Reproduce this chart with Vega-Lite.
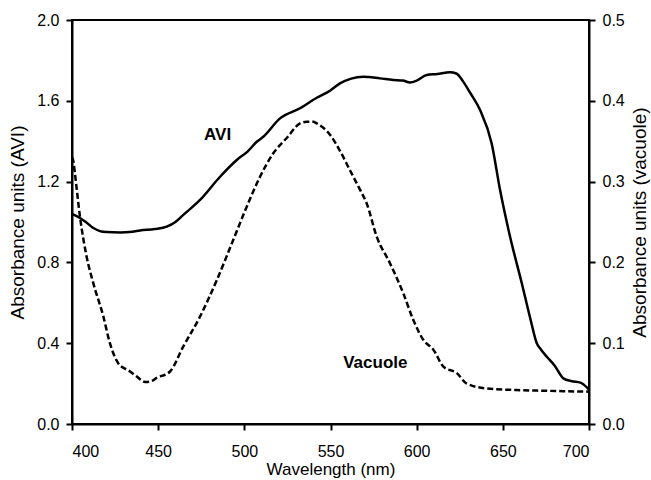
{
  "$schema": "https://vega.github.io/schema/vega-lite/v6.json",
  "width": 517,
  "height": 404,
  "autosize": "none",
  "padding": {"left": 72, "top": 20, "right": 62, "bottom": 56},
  "background": "white",
  "config": {
    "font": "Liberation Sans",
    "view": {"stroke": "black", "strokeWidth": 2},
    "axis": {
      "grid": false,
      "domainColor": "black",
      "domainWidth": 2,
      "tickColor": "black",
      "tickWidth": 2,
      "tickSize": 6,
      "labelColor": "black",
      "labelFontSize": 16,
      "labelFont": "Liberation Sans",
      "labelPadding": 7,
      "titleColor": "black",
      "titleFont": "Liberation Sans",
      "titleFontSize": 19,
      "titleFontWeight": "normal"
    }
  },
  "datasets": {
    "avi": [
      {"wavelength": 400, "absorbance": 1.04},
      {"wavelength": 404.6, "absorbance": 1.02},
      {"wavelength": 408, "absorbance": 1.0},
      {"wavelength": 412.4, "absorbance": 0.97},
      {"wavelength": 416.2, "absorbance": 0.955},
      {"wavelength": 420, "absorbance": 0.95},
      {"wavelength": 427.9, "absorbance": 0.948},
      {"wavelength": 435, "absorbance": 0.952},
      {"wavelength": 439.5, "absorbance": 0.958},
      {"wavelength": 448, "absorbance": 0.965},
      {"wavelength": 455, "absorbance": 0.977},
      {"wavelength": 460, "absorbance": 1.0},
      {"wavelength": 464.6, "absorbance": 1.035},
      {"wavelength": 474.3, "absorbance": 1.109},
      {"wavelength": 485.9, "absorbance": 1.224},
      {"wavelength": 495.6, "absorbance": 1.307},
      {"wavelength": 502, "absorbance": 1.35},
      {"wavelength": 507.2, "absorbance": 1.397},
      {"wavelength": 511, "absorbance": 1.422},
      {"wavelength": 520.7, "absorbance": 1.513},
      {"wavelength": 532.3, "absorbance": 1.563},
      {"wavelength": 542, "absorbance": 1.615},
      {"wavelength": 549.7, "absorbance": 1.65},
      {"wavelength": 555.5, "absorbance": 1.686},
      {"wavelength": 562, "absorbance": 1.71},
      {"wavelength": 569, "absorbance": 1.719},
      {"wavelength": 578.7, "absorbance": 1.711},
      {"wavelength": 586.4, "absorbance": 1.703},
      {"wavelength": 592, "absorbance": 1.7},
      {"wavelength": 596.1, "absorbance": 1.691},
      {"wavelength": 600, "absorbance": 1.7},
      {"wavelength": 605.8, "absorbance": 1.728},
      {"wavelength": 612, "absorbance": 1.733},
      {"wavelength": 619.3, "absorbance": 1.741},
      {"wavelength": 623, "absorbance": 1.735},
      {"wavelength": 627, "absorbance": 1.695},
      {"wavelength": 631, "absorbance": 1.64},
      {"wavelength": 636.8, "absorbance": 1.554},
      {"wavelength": 643.5, "absorbance": 1.39},
      {"wavelength": 648.4, "absorbance": 1.158},
      {"wavelength": 654.2, "absorbance": 0.927},
      {"wavelength": 661, "absorbance": 0.697},
      {"wavelength": 666, "absorbance": 0.52},
      {"wavelength": 669.7, "absorbance": 0.4},
      {"wavelength": 672, "absorbance": 0.37},
      {"wavelength": 675.5, "absorbance": 0.333},
      {"wavelength": 680, "absorbance": 0.29},
      {"wavelength": 685.1, "absorbance": 0.226},
      {"wavelength": 690, "absorbance": 0.212},
      {"wavelength": 695, "absorbance": 0.205},
      {"wavelength": 700, "absorbance": 0.17}
    ],
    "vacuole": [
      {"wavelength": 400, "absorbance": 0.33},
      {"wavelength": 400.8, "absorbance": 0.325},
      {"wavelength": 401.7, "absorbance": 0.31},
      {"wavelength": 404.6, "absorbance": 0.257},
      {"wavelength": 408.5, "absorbance": 0.207},
      {"wavelength": 412.4, "absorbance": 0.174},
      {"wavelength": 418.2, "absorbance": 0.133},
      {"wavelength": 422, "absorbance": 0.1},
      {"wavelength": 426.9, "absorbance": 0.075},
      {"wavelength": 433.7, "absorbance": 0.065},
      {"wavelength": 438, "absorbance": 0.058},
      {"wavelength": 442.4, "absorbance": 0.052},
      {"wavelength": 446, "absorbance": 0.053},
      {"wavelength": 449.1, "absorbance": 0.057},
      {"wavelength": 456.9, "absorbance": 0.065},
      {"wavelength": 464.6, "absorbance": 0.096},
      {"wavelength": 474.3, "absorbance": 0.133},
      {"wavelength": 484, "absorbance": 0.178},
      {"wavelength": 493.6, "absorbance": 0.228},
      {"wavelength": 501.4, "absorbance": 0.269},
      {"wavelength": 509.1, "absorbance": 0.306},
      {"wavelength": 516.8, "absorbance": 0.335},
      {"wavelength": 524.6, "absorbance": 0.354},
      {"wavelength": 532.3, "absorbance": 0.372},
      {"wavelength": 536.2, "absorbance": 0.374},
      {"wavelength": 540, "absorbance": 0.374},
      {"wavelength": 542, "absorbance": 0.372},
      {"wavelength": 549.7, "absorbance": 0.358},
      {"wavelength": 555, "absorbance": 0.34},
      {"wavelength": 561.3, "absorbance": 0.314},
      {"wavelength": 567.1, "absorbance": 0.29},
      {"wavelength": 571, "absorbance": 0.273},
      {"wavelength": 576.8, "absorbance": 0.232},
      {"wavelength": 584.5, "absorbance": 0.199},
      {"wavelength": 592.2, "absorbance": 0.162},
      {"wavelength": 598, "absorbance": 0.129},
      {"wavelength": 603.9, "absorbance": 0.104},
      {"wavelength": 609.7, "absorbance": 0.092},
      {"wavelength": 615.5, "absorbance": 0.071},
      {"wavelength": 623.3, "absorbance": 0.063},
      {"wavelength": 629, "absorbance": 0.05},
      {"wavelength": 640.6, "absorbance": 0.044},
      {"wavelength": 658, "absorbance": 0.042},
      {"wavelength": 677.4, "absorbance": 0.041},
      {"wavelength": 700, "absorbance": 0.04}
    ],
    "labels": [
      {"wavelength": 484.5, "absorbance": 1.43, "text": "AVI"},
      {"wavelength": 576, "absorbance": 0.3, "text": "Vacuole"}
    ]
  },
  "layer": [
    {
      "data": {"name": "avi"},
      "mark": {"type": "line", "color": "black", "strokeWidth": 2.5, "interpolate": "monotone", "clip": true},
      "encoding": {
        "x": {
          "field": "wavelength", "type": "quantitative",
          "scale": {"domain": [400, 700], "nice": false, "zero": false},
          "axis": {"values": [400, 450, 500, 550, 600, 650, 700], "title": "Wavelength (nm)", "titleFontSize": 17, "labelPadding": 13, "titlePadding": 2}
        },
        "y": {
          "field": "absorbance", "type": "quantitative",
          "scale": {"domain": [0, 2], "nice": false},
          "axis": {"orient": "left", "values": [0, 0.4, 0.8, 1.2, 1.6, 2.0], "format": ".1f", "title": "Absorbance units (AVI)", "titlePadding": 9}
        }
      }
    },
    {
      "data": {"name": "vacuole"},
      "mark": {"type": "line", "color": "black", "strokeWidth": 2.5, "strokeDash": [6, 3], "interpolate": "monotone", "clip": true},
      "encoding": {
        "x": {"field": "wavelength", "type": "quantitative", "scale": {"domain": [400, 700], "nice": false, "zero": false}},
        "y": {
          "field": "absorbance", "type": "quantitative",
          "scale": {"domain": [0, 0.5], "nice": false},
          "axis": {"orient": "right", "values": [0, 0.1, 0.2, 0.3, 0.4, 0.5], "title": "Absorbance units (vacuole)", "titleAngle": 270, "titleBaseline": "top", "titlePadding": 6}
        }
      }
    },
    {
      "data": {"name": "labels"},
      "mark": {"type": "text", "font": "Liberation Sans", "fontSize": 17, "fontWeight": "bold", "color": "black", "align": "center", "baseline": "middle"},
      "encoding": {
        "x": {"field": "wavelength", "type": "quantitative", "scale": {"domain": [400, 700], "nice": false, "zero": false}},
        "y": {"field": "absorbance", "type": "quantitative", "scale": {"domain": [0, 2], "nice": false}, "axis": null},
        "text": {"field": "text"}
      }
    }
  ],
  "resolve": {"scale": {"y": "independent"}, "axis": {"y": "independent"}}
}
